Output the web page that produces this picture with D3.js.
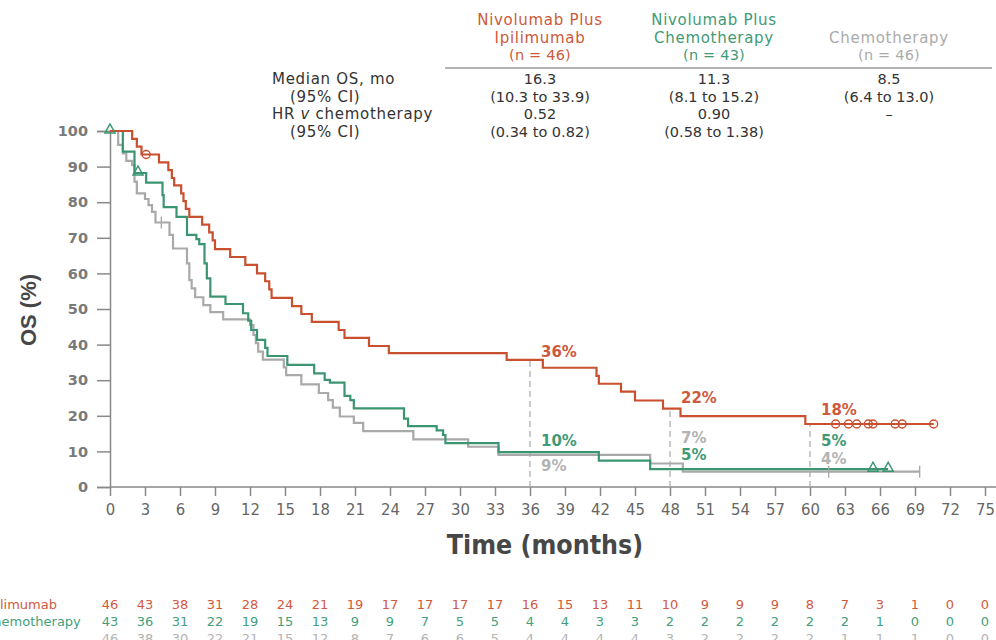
<!DOCTYPE html>
<html><head><meta charset="utf-8">
<script src="https://cdn.jsdelivr.net/npm/d3@7"></script>
<style>
body{margin:0;background:#fff;overflow:hidden}
svg{display:block}
</style>
</head><body>
<svg id="chart" width="996" height="640"></svg>
<script>
// ---------- data ----------
const armNames = [["Nivolumab Plus","Ipilimumab","(n = 46)"],["Nivolumab Plus","Chemotherapy","(n = 43)"],["Chemotherapy","(n = 46)"]];
const armColors = ["#c9502f","#3b9571","#a9a9a9"];
const armTextColors = ["#cd5a3c","#3f9a77","#ababab"];
const medianOS = ["16.3","11.3","8.5"];
const medianCI = ["(10.3 to 33.9)","(8.1 to 15.2)","(6.4 to 13.0)"];
const hrValues = ["0.52","0.90","–"];
const hrCI = ["(0.34 to 0.82)","(0.58 to 1.38)",""];
const rowLabels = ["Median OS, mo","(95% CI)","HR v chemotherapy","(95% CI)"];

const ipiTimes  = [0,1.9,2.3,2.7,4.2,5.0,5.3,5.5,6.1,6.3,6.5,6.8,7.9,8.5,8.8,9.0,10.3,11.6,12.6,13.3,13.65,13.85,15.6,16.4,17.3,19.6,20.1,22.2,23.9,34.0,37.1,41.7,41.9,43.8,45.0,47.4,48.9,59.6];
const ipiValues = [100,97.8,95.6,93.4,91.2,89.0,86.8,84.7,82.5,80.3,78.1,75.9,73.7,71.5,69.3,66.8,64.6,62.4,60.0,57.8,55.5,53.1,50.8,48.6,46.4,44.1,41.9,39.6,37.6,35.7,33.5,31.2,29.0,26.8,24.3,22.0,19.9,17.7];
const ipiEnd = 70.6;
const ipiCensorT = [3.1,62.2,63.3,64.0,65.0,65.4,67.3,67.9,70.6];

const chemoNivoTimes  = [0,1.1,2.1,3.1,4.5,4.6,5.7,6.6,7.4,7.65,8.1,8.3,8.6,9.9,11.4,11.85,12.1,12.6,13.3,13.5,15.2,17.5,18.4,18.85,20.1,20.6,20.9,25.2,25.55,28.0,28.55,28.75,33.3,41.9,46.3];
const chemoNivoValues = [100,94.2,88.2,85.5,82.0,78.6,75.9,70.8,69.6,68.2,62.8,58.6,53.5,51.4,48.8,46.7,44.1,41.3,39.1,36.8,34.3,31.9,30.1,29.3,25.6,24.4,22.1,19.2,17.1,15.9,14.6,12.3,9.8,7.4,5.0];
const chemoNivoEnd = 66.7;
const chemoNivoCensorT = [0,2.4,65.4,66.7];

const chemoTimes  = [0,0.7,1.1,1.4,1.9,2.1,2.3,3.0,3.3,3.6,3.9,5.1,5.4,6.6,6.8,7.0,7.3,8.0,8.6,9.7,12.0,12.3,12.5,12.7,13.1,14.9,15.1,16.4,17.9,18.7,19.1,19.7,20.9,21.7,26.0,30.7,33.3,46.3,49.1];
const chemoValues = [100,96.1,93.7,91.6,90.4,85.8,82.5,80.9,79.2,77.3,74.3,70.8,67.0,62.8,58.1,55.8,53.3,51.1,49.1,47.1,45.5,42.7,40.4,38.0,35.8,33.6,31.4,28.8,26.4,24.4,22.3,19.8,18.0,15.7,13.4,11.3,9.0,6.6,4.3];
const chemoEnd = 69.4;
const chemoCensorT = [4.4,61.6,69.4];

const xTickLabels = [0,3,6,9,12,15,18,21,24,27,30,33,36,39,42,45,48,51,54,57,60,63,66,69,72,75];
const yTickLabels = [0,10,20,30,40,50,60,70,80,90,100];

const landmarkMonths = [36,48,60];
const ipiLandmark = ["36%","22%","18%"];
const chemoNivoLandmark = ["10%","5%","5%"];
const chemoLandmark = ["9%","7%","4%"];

const riskLabels = ["Nivolumab Plus Ipilimumab","Nivolumab Plus Chemotherapy","Chemotherapy"];
const ipiAtRisk = [46,43,38,31,28,24,21,19,17,17,17,17,16,15,13,11,10,9,9,9,8,7,3,1,0,0];
const chemoNivoAtRisk = [43,36,31,22,19,15,13,9,9,7,5,5,4,4,3,3,2,2,2,2,2,2,1,0,0,0];
const chemoAtRisk = [46,38,30,22,21,15,12,8,7,6,6,5,4,4,4,4,3,2,2,2,2,1,1,1,0,0];

// ---------- drawing ----------
const svg = d3.select("#chart");
const x = d3.scaleLinear().domain([0,75]).range([110,985]);
const y = d3.scaleLinear().domain([0,100]).range([487,131]);

const baseFont = "'DejaVu Sans', 'Liberation Sans', sans-serif";
const narrowFont = "'Liberation Sans Narrow', 'DejaVu Sans Condensed', 'Liberation Sans', sans-serif";

// header table
const colX = [540,714,889];
const wordSize = 15;
armNames.forEach((lines,i)=>{
  const startY = lines.length===3 ? 25 : 42.5;
  lines.forEach((t,j)=>{
    svg.append("text").attr("x",colX[i]).attr("y",startY+j*17.6)
      .attr("text-anchor","middle").attr("font-family",baseFont)
      .attr("font-size", t.startsWith("(") ? 14.5 : wordSize).attr("letter-spacing", t.startsWith("(") ? 0.2 : 0.7)
      .attr("fill",armTextColors[i]).text(t);
  });
});
svg.append("line").attr("x1",445).attr("x2",992).attr("y1",68).attr("y2",68)
  .attr("stroke","#9a9a9a").attr("stroke-width",1.5);
const rowY = [84,101.7,119.4,137.1];
rowLabels.forEach((t,i)=>{
  const tx = svg.append("text").attr("x", i%2===1 ? 290 : 272).attr("y",rowY[i])
    .attr("font-family",baseFont).attr("font-size",wordSize).attr("letter-spacing",0.7).attr("fill","#333");
  if (t.startsWith("HR v")) {
    tx.append("tspan").text("HR ");
    tx.append("tspan").attr("font-style","italic").text("v");
    tx.append("tspan").text(" chemotherapy");
  } else tx.text(t);
});
[medianOS,medianCI,hrValues,hrCI].forEach((row,r)=>{
  row.forEach((t,i)=>{
    svg.append("text").attr("x",colX[i]).attr("y",rowY[r]).attr("text-anchor","middle")
      .attr("font-family",baseFont).attr("font-size",14.5).attr("fill","#333").text(t);
  });
});

// axes
const yAxis = d3.axisLeft(y).tickValues(yTickLabels).tickSize(13).tickPadding(9);
const gy = svg.append("g").attr("transform","translate(110,0)").call(yAxis);
gy.select(".domain").attr("stroke","#888").attr("stroke-width",1.5);
gy.selectAll(".tick line").attr("stroke","#888").attr("stroke-width",1.5);
gy.selectAll(".tick text").attr("font-family",baseFont).attr("font-size",14.5)
  .attr("font-weight","bold").attr("fill","#7a7a7a");

const xAxis = d3.axisBottom(x).tickValues(xTickLabels).tickSize(9).tickPadding(7);
const gx = svg.append("g").attr("transform","translate(0,487)").call(xAxis);
gx.select(".domain").remove();
gx.append("line").attr("x1",110).attr("x2",996).attr("stroke","#888").attr("stroke-width",1.5);
gx.selectAll(".tick line").attr("stroke","#888").attr("stroke-width",1.5);
gx.selectAll(".tick text").attr("font-family",narrowFont).attr("font-size",16.5)
  .attr("fill","#666");

svg.append("text").attr("x",545).attr("y",554).attr("text-anchor","middle")
  .attr("font-family",narrowFont).attr("font-weight","bold").attr("font-size",26.5)
  .attr("fill","#474747").text("Time (months)");
svg.append("text").attr("transform","translate(36,310) rotate(-90)").attr("text-anchor","middle")
  .attr("font-family","'Liberation Sans', sans-serif").attr("font-weight","bold").attr("font-size",22)
  .attr("fill","#474747").text("OS (%)");

// step survival curve value lookup
function survAt(times, values, t){
  let v = values[0];
  for (let i=0;i<times.length;i++){ if (times[i] <= t) v = values[i]; }
  return v;
}

// landmark dashed lines
landmarkMonths.forEach(m=>{
  svg.append("line").attr("x1",x(m)).attr("x2",x(m)).attr("y1",y(0)).attr("y2",y(survAt(ipiTimes,ipiValues,m)))
    .attr("stroke","#b0b0b0").attr("stroke-width",1.3).attr("stroke-dasharray","6,4");
});

// curves
const line = d3.line().x(d=>x(d[0])).y(d=>y(d[1])).curve(d3.curveStepAfter);
const curves = [
  {t:chemoTimes, v:chemoValues, end:chemoEnd, color:armColors[2]},
  {t:chemoNivoTimes, v:chemoNivoValues, end:chemoNivoEnd, color:armColors[1]},
  {t:ipiTimes, v:ipiValues, end:ipiEnd, color:armColors[0]}
];
curves.forEach(c=>{
  const pts = c.t.map((t,i)=>[t,c.v[i]]);
  pts.push([c.end, c.v[c.v.length-1]]);
  svg.append("path").datum(pts).attr("d",line).attr("fill","none")
    .attr("stroke",c.color).attr("stroke-width",2.2);
});

// censor marks
chemoCensorT.forEach(t=>{
  const cx=x(t), cy=y(survAt(chemoTimes,chemoValues,t));
  svg.append("line").attr("x1",cx).attr("x2",cx).attr("y1",cy-6).attr("y2",cy+6)
    .attr("stroke",armColors[2]).attr("stroke-width",1.4);
});
chemoNivoCensorT.forEach(t=>{
  const cx=x(t), cy=y(survAt(chemoNivoTimes,chemoNivoValues,t));
  svg.append("path").attr("d",`M${cx-5},${cy+2}L${cx+5},${cy+2}L${cx},${cy-7}Z`)
    .attr("fill","none").attr("stroke",armColors[1]).attr("stroke-width",1.5);
});
ipiCensorT.forEach(t=>{
  const cx=x(t), cy=y(survAt(ipiTimes,ipiValues,t));
  svg.append("circle").attr("cx",cx).attr("cy",cy).attr("r",4)
    .attr("fill","none").attr("stroke",armColors[0]).attr("stroke-width",1.4);
});

// landmark labels
const ipiLabelY = [357,403,415];
const cnLabelY = [446,460,446];
const chLabelY = [471,443,464];
landmarkMonths.forEach((m,i)=>{
  const lx = x(m)+11;
  [[ipiLandmark[i],ipiLabelY[i],armTextColors[0]],[chemoNivoLandmark[i],cnLabelY[i],armTextColors[1]],[chemoLandmark[i],chLabelY[i],"#b3b3b3"]]
  .forEach(([t,yy,col])=>{
    svg.append("text").attr("x",lx).attr("y",yy).attr("font-family",baseFont)
      .attr("font-size",15).attr("font-weight","bold").attr("fill",col).text(t);
  });
});

// at-risk table
const riskRows = [ipiAtRisk, chemoNivoAtRisk, chemoAtRisk];
const riskColors = ["#d2593d","#44a07c","#b3b3b3"];
const riskY = [609,626,643];
riskRows.forEach((row,r)=>{
  row.forEach((n,i)=>{
    svg.append("text").attr("x",x(xTickLabels[i])).attr("y",riskY[r]).attr("text-anchor","middle")
      .attr("font-family",baseFont).attr("font-size",13).attr("fill",riskColors[r]).text(n);
  });
  const lab = svg.append("text").attr("y",riskY[r]).attr("font-family",baseFont)
    .attr("font-size",13).attr("fill",riskColors[r]).text(riskLabels[r]);
  const probe = svg.append("text").attr("font-family",baseFont).attr("font-size",13)
    .text("Nivolumab Plus Ipi");
  const w = probe.node().getComputedTextLength();
  probe.remove();
  lab.attr("x",-w);
});
</script>
</body></html>
